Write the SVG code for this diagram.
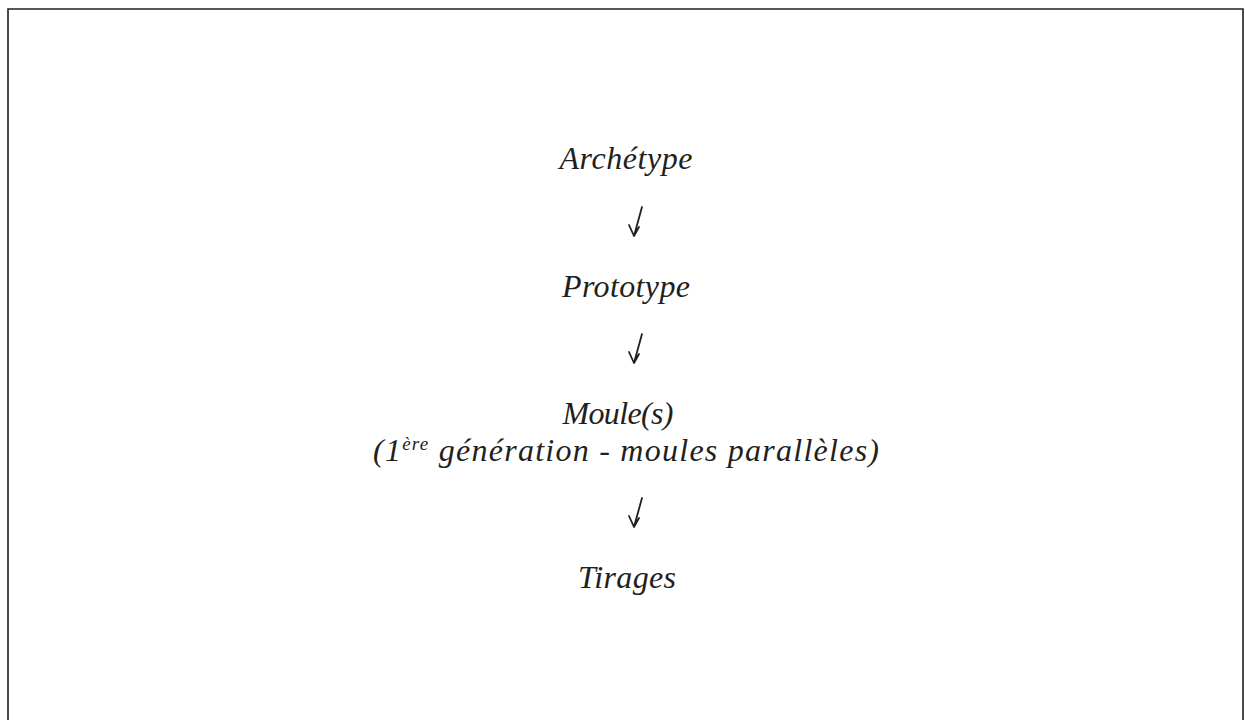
<svg xmlns="http://www.w3.org/2000/svg" width="1245" height="720" viewBox="0 0 1245 720">
<style>
.t{font-family:"Liberation Serif","DejaVu Serif",serif;font-style:italic;font-size:32px;fill:#231f20;text-anchor:middle}
.sup{font-size:19px}
.arr{fill:none;stroke:#231f20;stroke-width:1.8;stroke-linecap:round;stroke-linejoin:round}
</style>
<rect width="1245" height="720" fill="#fff"/>
<path d="M8,721 V9 H1243 V721" fill="none" stroke="#231f20" stroke-width="1.6"/>
<g id="archetype"><text class="t" x="626" y="169" textLength="133" lengthAdjust="spacing">Archétype</text></g>
<g id="prototype"><text class="t" x="626" y="297" textLength="128" lengthAdjust="spacing">Prototype</text></g>
<g id="moules"><text class="t" x="618" y="424" textLength="111" lengthAdjust="spacing">Moule(s)</text>
<text class="t" x="626" y="461" textLength="506" lengthAdjust="spacing">(1<tspan class="sup" dy="-11">ère</tspan><tspan dy="11"> génération - moules parallèles)</tspan></text></g>
<g id="tirages"><text class="t" x="627" y="588" textLength="98" lengthAdjust="spacing">Tirages</text></g>
<g id="connectors">
<path class="arr" d="M642,207 L634,236 M629,225 L634,236 L639,227"/>
<path class="arr" d="M642,334 L634,363 M629,352 L634,363 L639,354"/>
<path class="arr" d="M642,498 L634,527 M629,516 L634,527 L639,518"/>
</g>
</svg>
